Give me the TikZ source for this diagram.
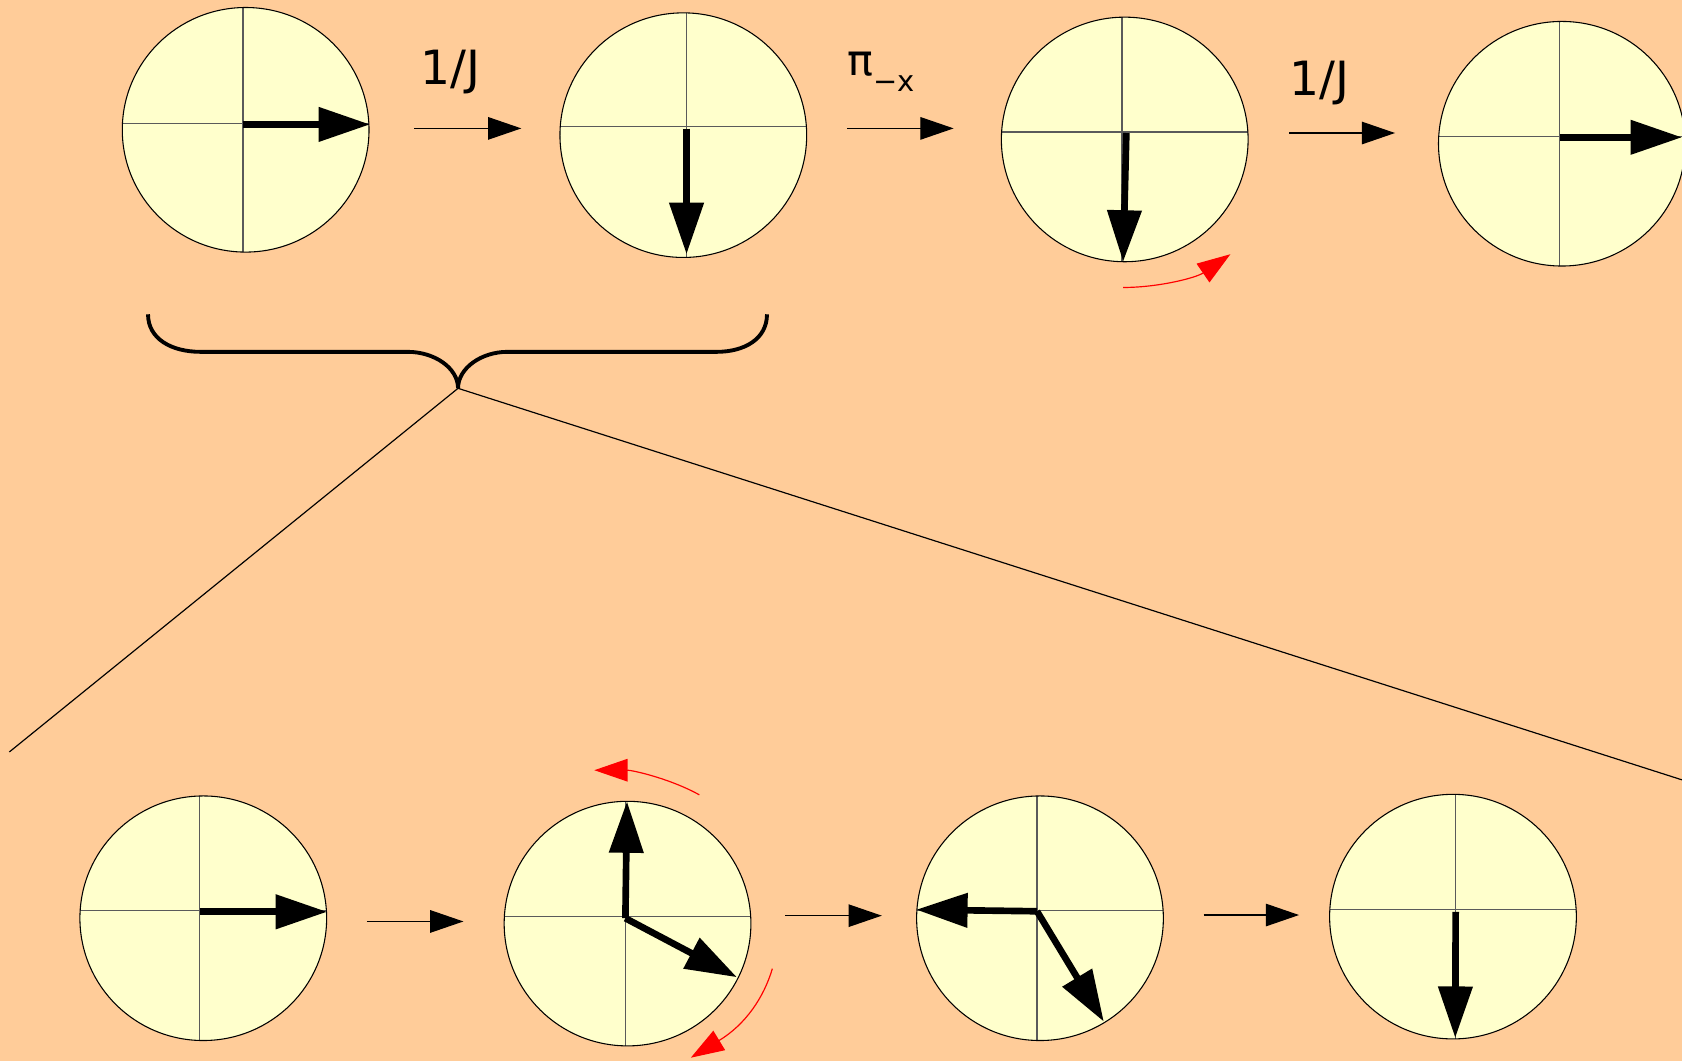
\documentclass[tikz,border=0pt]{standalone}
\usepackage{fontspec}
\setmainfont{DejaVu Sans}
\usetikzlibrary{arrows.meta}
\definecolor{peach}{HTML}{FFCC99}
\definecolor{dialfill}{HTML}{FFFFCC}
\definecolor{crossgray}{HTML}{5A5A5A}
\begin{document}
\begin{tikzpicture}[x=0.5pt,y=-0.5pt,
  dial/.style={draw=black,line width=0.5pt},
  crossline/.style={draw=crossgray,line width=0.55pt},
  spin/.style={line width=3.1pt,-{Triangle[length=24pt,width=15.5pt]}},
  flow/.style={line width=0.55pt,-{Triangle[length=15.5pt,width=10.5pt]}},
  rot/.style={red,line width=0.55pt,-{Triangle[length=15.5pt,width=10.5pt]}},
  bracestyle/.style={line width=1.8pt},
  zoomline/.style={line width=0.55pt},
  lbl/.style={font=\fontsize{22pt}{26pt}\selectfont,inner sep=0pt,anchor=base}
]
\useasboundingbox (0,0) rectangle (1568,989);
\clip (0,0) rectangle (1568,989);
\fill[peach] (0,0) rectangle (1568,989);

% dials: index / center x / center y / vertical line x / horizontal line y
\foreach \i/\cx/\cy/\vx/\hy in {1/229/121/226.5/115, 2/637/126/640/118, 3/1048.5/130/1046/123, 4/1456/134/1454/127,
                               5/189.5/856/186/849, 6/585/861/583/854, 7/969.5/856/966.7/849, 8/1354.5/854.5/1357/847.5}{
  \coordinate (c\i) at (\cx,\cy);
  \fill[dialfill] (c\i) ellipse [x radius=115, y radius=114];
  \begin{scope}
    \clip (c\i) ellipse [x radius=115, y radius=114];
    \draw[crossline] (\cx-130,\hy) -- (\cx+130,\hy);
    \draw[crossline] (\vx,\cy-130) -- (\vx,\cy+130);
  \end{scope}
  \draw[dial] (c\i) ellipse [x radius=115, y radius=114];
}

% spin vectors
\coordinate (s1a) at (226.5,116);  \coordinate (s1b) at (345,116);
\coordinate (s2a) at (640,120);    \coordinate (s2b) at (640,237);
\coordinate (s3a) at (1050,124);   \coordinate (s3b) at (1047,244);
\coordinate (s4a) at (1454,128);   \coordinate (s4b) at (1568,128);
\coordinate (s5a) at (186,850);    \coordinate (s5b) at (305,850);
\coordinate (s6o) at (583,856);    \coordinate (s6u) at (584.5,747);  \coordinate (s6d) at (687,911);
\coordinate (s7o) at (966.7,849.5);\coordinate (s7l) at (854,848);    \coordinate (s7d) at (1029,952.4);
\coordinate (s8a) at (1357,850);   \coordinate (s8b) at (1356.6,967.6);
\draw[spin] (s1a) -- (s1b);
\draw[spin] (s2a) -- (s2b);
\draw[spin] (s3a) -- (s3b);
\draw[spin] (s4a) -- (s4b);
\draw[spin] (s5a) -- (s5b);
\draw[spin] (s6o) -- (s6u);
\draw[spin] (s6o) -- (s6d);
\draw[spin] (s7o) -- (s7l);
\draw[spin] (s7o) -- (s7d);
\draw[spin] (s8a) -- (s8b);

% sequence arrows
\coordinate (f1a) at (386,119.7);  \coordinate (f1b) at (486,119.7);
\coordinate (f2a) at (790,119.7);  \coordinate (f2b) at (889,119.7);
\coordinate (f3a) at (1202,124);   \coordinate (f3b) at (1300.5,124);
\coordinate (f4a) at (342,859);    \coordinate (f4b) at (432,859);
\coordinate (f5a) at (732,853.6);  \coordinate (f5b) at (822,853.6);
\coordinate (f6a) at (1122,853);   \coordinate (f6b) at (1211,853);
\draw[flow] (f1a) -- (f1b);
\draw[flow] (f2a) -- (f2b);
\draw[flow] (f3a) -- (f3b);
\draw[flow] (f4a) -- (f4b);
\draw[flow] (f5a) -- (f5b);
\draw[flow] (f6a) -- (f6b);

% labels
\node[lbl] (l1) at (419.5,79) {1/J};
\node[lbl] (l3) at (1230,88.6) {1/J};
\node[inner sep=0pt,anchor=base west,font=\fontsize{20pt}{24pt}\selectfont] (l2) at (790,70)
  {π\raisebox{-7.7pt}{\fontsize{13.5pt}{16pt}\selectfont −x}};

% red rotation arrows
\coordinate (r1a) at (1047,268);  \coordinate (r1b) at (1147,237);
\draw[rot] (r1a) .. controls (1080,268) and (1115,259) .. (r1b);
\coordinate (r2a) at (652,741);   \coordinate (r2b) at (554,718);
\draw[rot] (r2a) .. controls (625,726) and (590,718) .. (r2b);
\coordinate (r3a) at (720,903);   \coordinate (r3b) at (644,986);
\draw[rot] (r3a) .. controls (712,930) and (695,955) .. (r3b);

% brace
\coordinate (bl) at (138,293);
\coordinate (br) at (715,293);
\coordinate (tip) at (427,362);
\draw[bracestyle] (bl) .. controls (138,316) and (160,328) .. (187,328) -- (380,328)
   .. controls (405,328) and (427,343) .. (tip)
   .. controls (427,343) and (449,328) .. (473,328) -- (668,328)
   .. controls (694,328) and (715,316) .. (br);

% zoom lines
\coordinate (zl) at (8.7,701);
\coordinate (zr) at (1568,727);
\draw[zoomline] (tip) -- (zl);
\draw[zoomline] (tip) -- (zr);
\end{tikzpicture}
\end{document}
